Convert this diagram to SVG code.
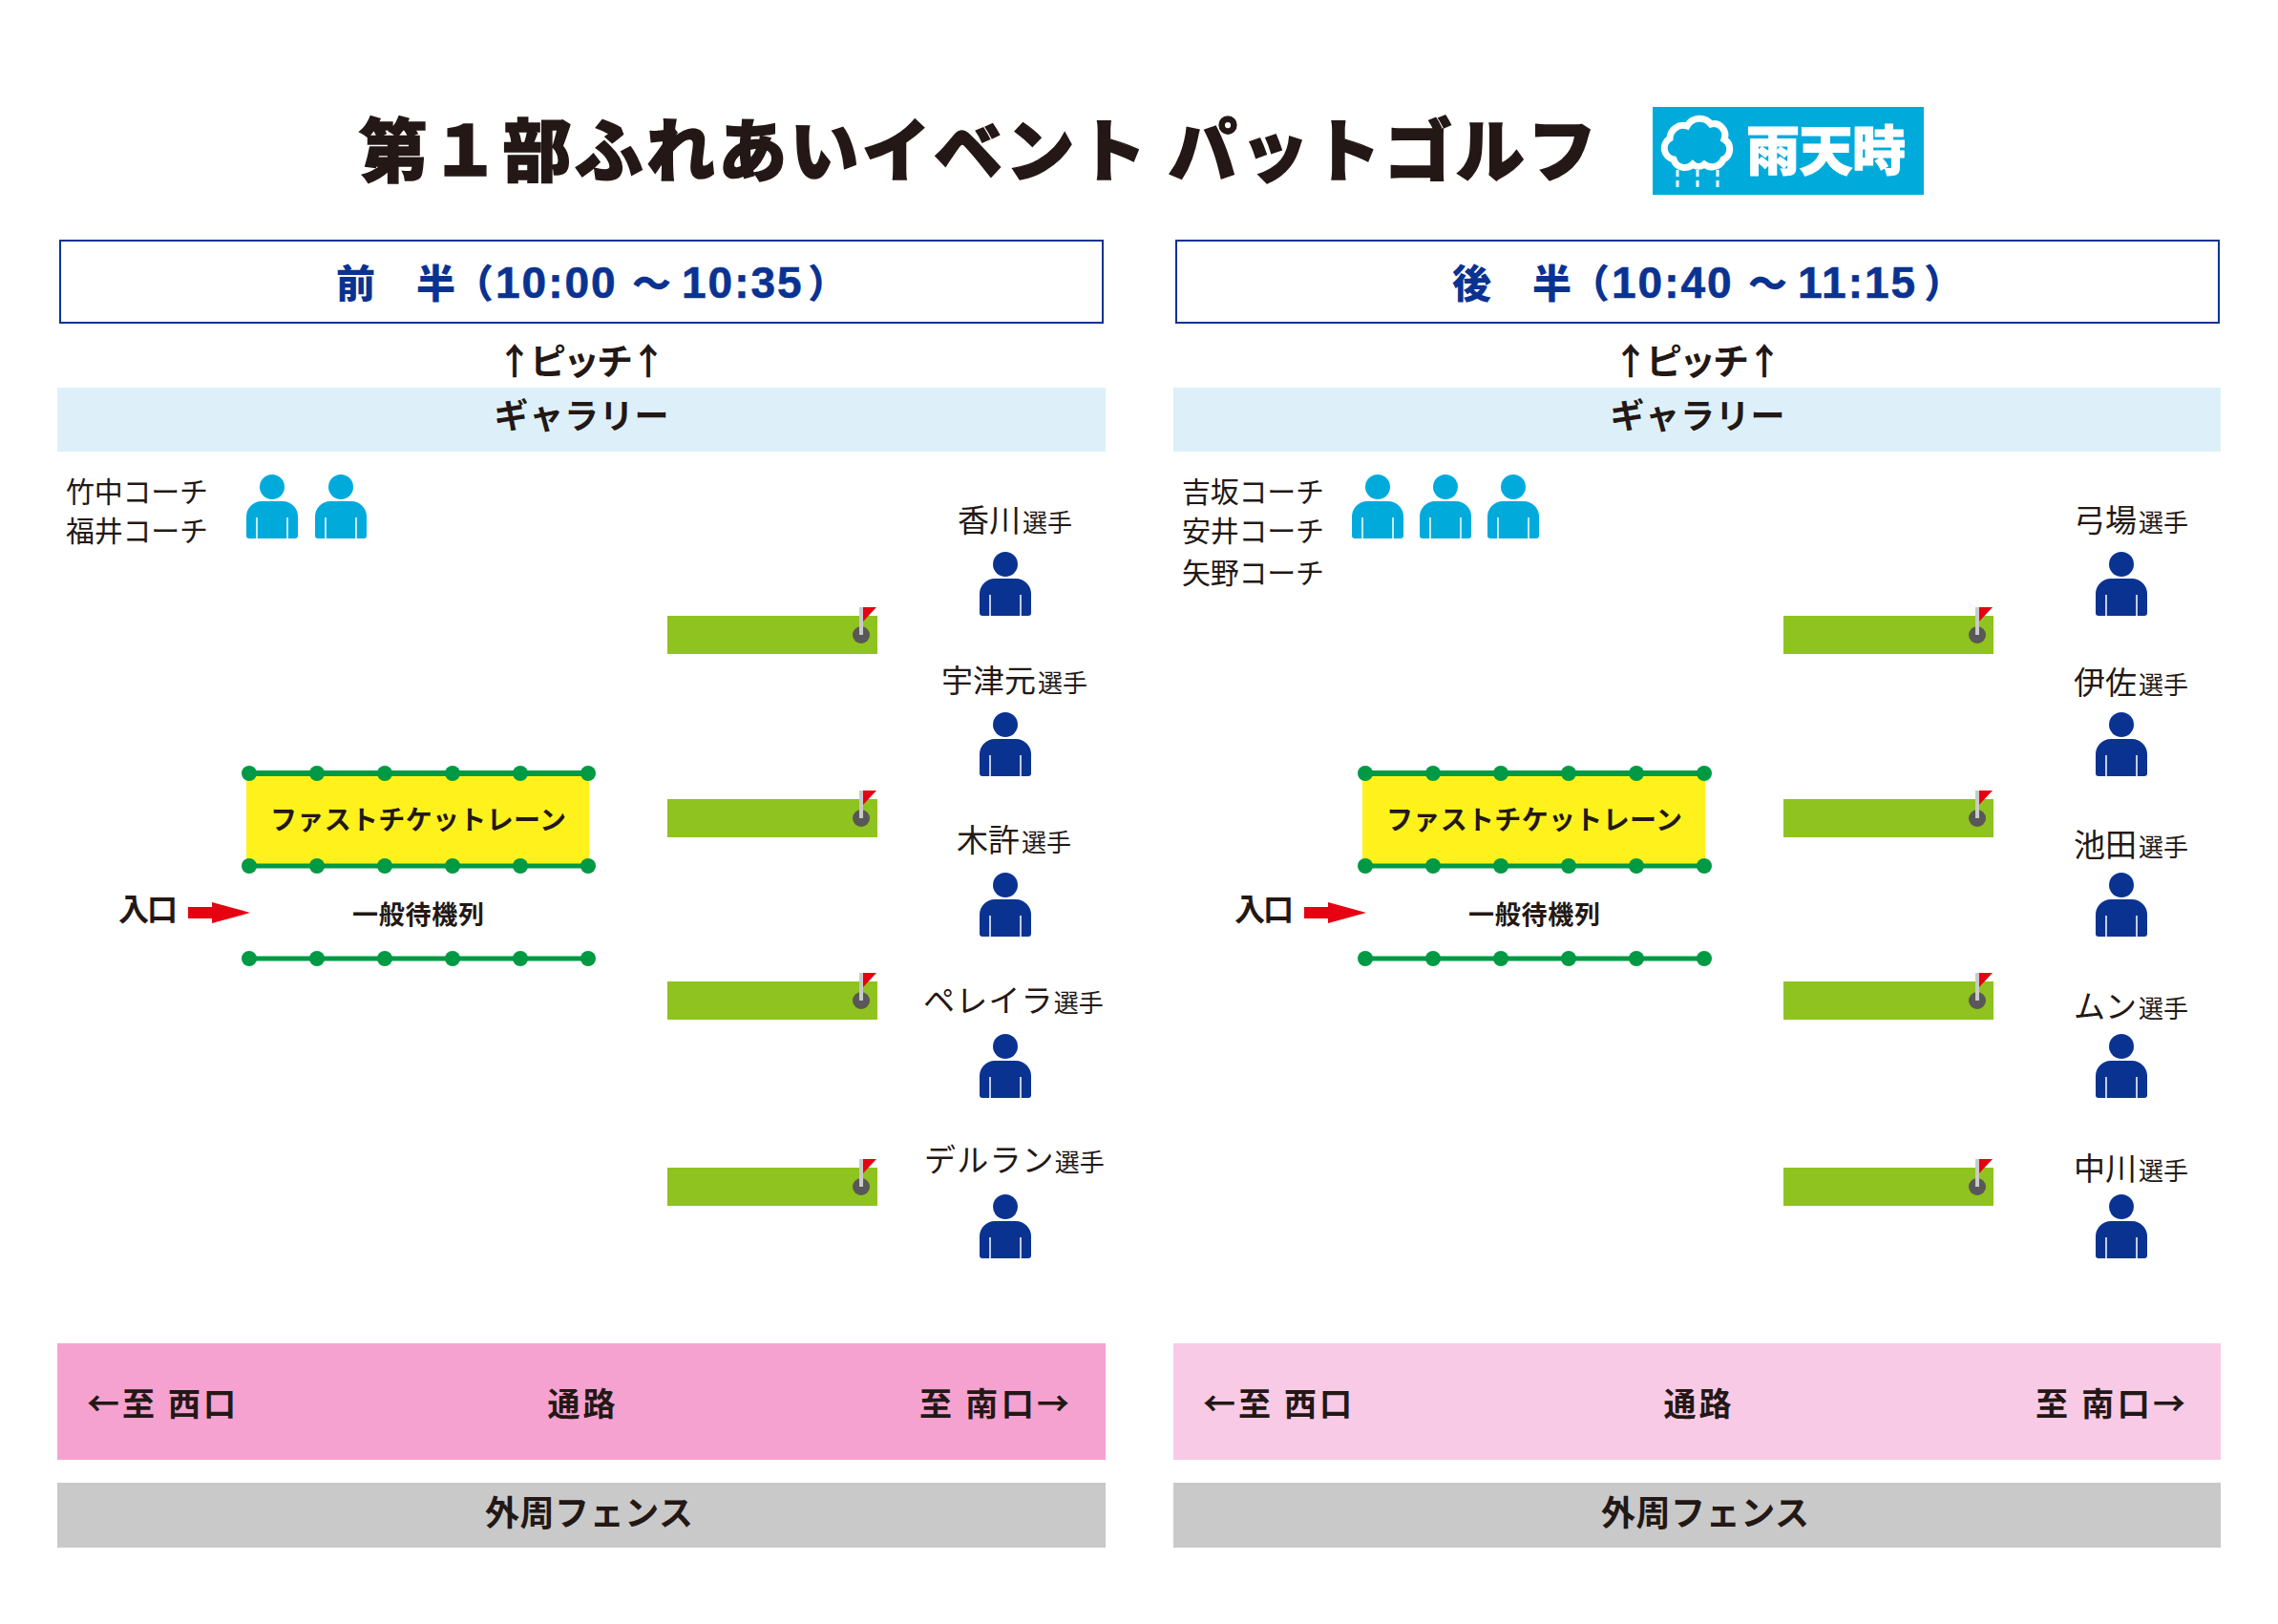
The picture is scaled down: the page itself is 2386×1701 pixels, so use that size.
<svg xmlns="http://www.w3.org/2000/svg" width="2386" height="1701" viewBox="0 0 2386 1701">
<style>
text{font-family:"Noto Sans CJK JP","Noto Sans CJK SC",sans-serif;fill:#231815}
.b{font-weight:700}
.title{font-size:72px;font-weight:900;stroke:#231815;stroke-width:1.5px}
.hd{font-size:41px;font-weight:900;fill:#0A3391}
.num{font-family:"Liberation Sans",sans-serif;font-size:46px;font-weight:700;letter-spacing:2px;fill:#0A3391;stroke:#0A3391;stroke-width:.6px}
.m{text-anchor:middle}
.pitch{font-size:38px;font-weight:700}
.gal{font-size:36px;font-weight:700}
.coach{font-size:30px}
.name{font-size:33px}
.kana{font-size:33px;letter-spacing:1.200px}
.sen{font-size:26px;letter-spacing:0}
.road{font-size:34px;font-weight:700}
.lane{font-size:28px;font-weight:700}
.fence{stroke:#009944;fill:none}
.post{fill:#009944}
.teal{fill:#00ABDC}
.navy{fill:#0A3391}
.green{fill:#8FC31F}
.pole{fill:#C9CACA}
.flag{fill:#E60012}
.hole{fill:#595757}
</style>
<defs>
<g id="person">
<circle cx="0" cy="0" r="13"/>
<path d="M-27 51V31A16 16 0 0 1-11 15H11A16 16 0 0 1 27 31V51Q27 54 24 54H-24Q-27 54-27 51Z"/>
<path d="M-16 32V54M16 32V54" stroke="#fff" stroke-width="1.5" fill="none"/>
</g>
<g id="green">
<rect class="green" x="0" y="0" width="220" height="40"/>
<circle class="hole" cx="203" cy="20" r="9"/>
<rect class="pole" x="201" y="-9" width="4" height="29"/>
<path class="flag" d="M205-9H219L205 6Z"/>
</g>
<g id="posts">
<circle class="post" cx="261" cy="0" r="8"/><circle class="post" cx="332" cy="0" r="8"/><circle class="post" cx="403" cy="0" r="8"/><circle class="post" cx="474" cy="0" r="8"/><circle class="post" cx="545" cy="0" r="8"/><circle class="post" cx="616" cy="0" r="8"/>
</g>
<path id="redarrow" class="flag" d="M197 950H222V945L262 956L222 967V962H197Z"/>
</defs>

<g id="title">
<text class="title" x="376" y="184" textLength="1296">第１部ふれあいイベント パットゴルフ</text>
</g>
<g id="rain-badge">
<rect class="teal" x="1731" y="112" width="284" height="92"/>
<path d="M1753 167A12 12 0 0 1 1749 145A14 14 0 0 1 1767 132A15 15 0 0 1 1792 130A12 12 0 0 1 1806 146A12 12 0 0 1 1805 167A13 13 0 0 1 1785 172A9 9 0 0 1 1773 172A12 12 0 0 1 1753 167Z" fill="none" stroke="#fff" stroke-width="7"/>
<path d="M1757 178V196M1778 178V196M1799 178V196" stroke="#fff" stroke-width="3" stroke-dasharray="7 4" fill="none"/>
<text x="1829" y="178" font-size="56" font-weight="900" style="fill:#fff;stroke:#fff;stroke-width:1px" textLength="167">雨天時</text>
</g>

<g id="panel-first">
<g id="header-first"><rect x="63" y="252" width="1092" height="86" fill="#fff" stroke="#0A3391" stroke-width="2"/>
<text class="hd" y="312"><tspan x="352">前</tspan><tspan x="436">半</tspan><tspan x="476">（</tspan><tspan class="num" x="519">10:00</tspan><tspan x="662">～</tspan><tspan class="num" x="714">10:35</tspan><tspan x="846">）</tspan></text></g>
<g id="pitch-first"><text class="pitch m" x="609" y="392" textLength="178">↑ピッチ↑</text></g>
<g id="gallery-first"><rect x="60" y="406" width="1098" height="67" fill="#DDF0FA"/><text class="gal m" x="609" y="449" textLength="183">ギャラリー</text></g>
<g id="coaches-first">
<text class="coach" x="69" y="526" textLength="149">竹中コーチ</text>
<text class="coach" x="69" y="567" textLength="149">福井コーチ</text>
<use href="#person" class="teal" x="285" y="510"/><use href="#person" class="teal" x="357" y="510"/>
</g>
<g id="player-kagawa"><text class="name" x="1003" y="557">香川<tspan class="sen" dx="2">選手</tspan></text><use href="#person" class="navy" x="1053" y="591"/></g>
<g id="player-uzu"><text class="name" x="986" y="725">宇津元<tspan class="sen" dx="2">選手</tspan></text><use href="#person" class="navy" x="1053" y="759"/></g>
<g id="player-kimoto"><text class="name" x="1002" y="892">木許<tspan class="sen" dx="2">選手</tspan></text><use href="#person" class="navy" x="1053" y="927"/></g>
<g id="player-pereira"><text class="kana" x="967" y="1060">ペレイラ<tspan class="sen">選手</tspan></text><use href="#person" class="navy" x="1053" y="1096"/></g>
<g id="player-deruran"><text class="kana" x="968" y="1227">デルラン<tspan class="sen">選手</tspan></text><use href="#person" class="navy" x="1053" y="1264"/></g>
<g id="greens-first"><use href="#green" x="699" y="645"/><use href="#green" x="699" y="837"/><use href="#green" x="699" y="1028"/><use href="#green" x="699" y="1223"/></g>
<g id="fastlane-first"><rect x="258" y="810" width="359" height="97" fill="#FFF21C"/><text class="lane m" x="438" y="869" textLength="310">ファストチケットレーン</text></g>
<g id="general-first"><text class="lane m" x="438" y="968" style="font-size:27px" textLength="138">一般待機列</text></g>
<g id="entry-first"><text class="b" x="124" y="964" font-size="32" textLength="62">入口</text></g>
<g id="road-first"><rect x="60" y="1407" width="1098" height="122" fill="#F5A2D0"/>
<text class="road" x="91" y="1483" textLength="156">←至 西口</text>
<text class="road m" x="609" y="1483" textLength="71">通路</text>
<text class="road" x="963" y="1483" textLength="157">至 南口→</text></g>
<g id="fence-first"><rect x="60" y="1553" width="1098" height="68" fill="#C9C9C9"/><text class="gal m" x="617" y="1598" textLength="218">外周フェンス</text></g>
</g>

<g id="panel-second">
<g id="header-second"><rect x="1232" y="252" width="1092" height="86" fill="#fff" stroke="#0A3391" stroke-width="2"/>
<text class="hd" y="312"><tspan x="1521">後</tspan><tspan x="1605">半</tspan><tspan x="1645">（</tspan><tspan class="num" x="1688">10:40</tspan><tspan x="1831">～</tspan><tspan class="num" x="1883">11:15</tspan><tspan x="2015">）</tspan></text></g>
<g id="pitch-second"><text class="pitch m" x="1778" y="392" textLength="178">↑ピッチ↑</text></g>
<g id="gallery-second"><rect x="1229" y="406" width="1097" height="67" fill="#DDF0FA"/><text class="gal m" x="1778" y="449" textLength="183">ギャラリー</text></g>
<g id="coaches-second">
<text class="coach" x="1238" y="526" textLength="149">吉坂コーチ</text>
<text class="coach" x="1238" y="567" textLength="149">安井コーチ</text>
<text class="coach" x="1238" y="611" textLength="149">矢野コーチ</text>
<use href="#person" class="teal" x="1443" y="510"/><use href="#person" class="teal" x="1514" y="510"/><use href="#person" class="teal" x="1585" y="510"/>
</g>
<g id="player-yumiba"><text class="name" x="2172" y="557">弓場<tspan class="sen" dx="2">選手</tspan></text><use href="#person" class="navy" x="2222" y="591"/></g>
<g id="player-isa"><text class="name" x="2172" y="727">伊佐<tspan class="sen" dx="2">選手</tspan></text><use href="#person" class="navy" x="2222" y="759"/></g>
<g id="player-ikeda"><text class="name" x="2172" y="897">池田<tspan class="sen" dx="2">選手</tspan></text><use href="#person" class="navy" x="2222" y="927"/></g>
<g id="player-mun"><text class="name" x="2172" y="1066">ムン<tspan class="sen" dx="2">選手</tspan></text><use href="#person" class="navy" x="2222" y="1096"/></g>
<g id="player-nakagawa"><text class="name" x="2172" y="1236">中川<tspan class="sen" dx="2">選手</tspan></text><use href="#person" class="navy" x="2222" y="1264"/></g>
<g id="greens-second"><use href="#green" x="1868" y="645"/><use href="#green" x="1868" y="837"/><use href="#green" x="1868" y="1028"/><use href="#green" x="1868" y="1223"/></g>
<g id="fastlane-second"><rect x="1427" y="810" width="359" height="97" fill="#FFF21C"/><text class="lane m" x="1607" y="869" textLength="310">ファストチケットレーン</text></g>
<g id="general-second"><text class="lane m" x="1607" y="968" style="font-size:27px" textLength="138">一般待機列</text></g>
<g id="entry-second"><text class="b" x="1293" y="964" font-size="32" textLength="62">入口</text></g>
<g id="road-second"><rect x="1229" y="1407" width="1097" height="122" fill="#F9CAE5"/>
<text class="road" x="1260" y="1483" textLength="156">←至 西口</text>
<text class="road m" x="1778" y="1483" textLength="71">通路</text>
<text class="road" x="2132" y="1483" textLength="157">至 南口→</text></g>
<g id="fence-second"><rect x="1229" y="1553" width="1097" height="68" fill="#C9C9C9"/><text class="gal m" x="1786" y="1598" textLength="218">外周フェンス</text></g>
</g>

<g id="connectors">
<g id="lines-first">
<path class="fence" d="M261 810H616" stroke-width="6"/><path class="fence" d="M261 907H616" stroke-width="5"/><path class="fence" d="M261 1004H616" stroke-width="5"/>
<use href="#posts" y="810"/><use href="#posts" y="907"/><use href="#posts" y="1004"/>
<use href="#redarrow"/>
</g>
<g id="lines-second">
<path class="fence" d="M1430 810H1785" stroke-width="6"/><path class="fence" d="M1430 907H1785" stroke-width="5"/><path class="fence" d="M1430 1004H1785" stroke-width="5"/>
<use href="#posts" x="1169" y="810"/><use href="#posts" x="1169" y="907"/><use href="#posts" x="1169" y="1004"/>
<use href="#redarrow" x="1169"/>
</g>
</g>
</svg>
